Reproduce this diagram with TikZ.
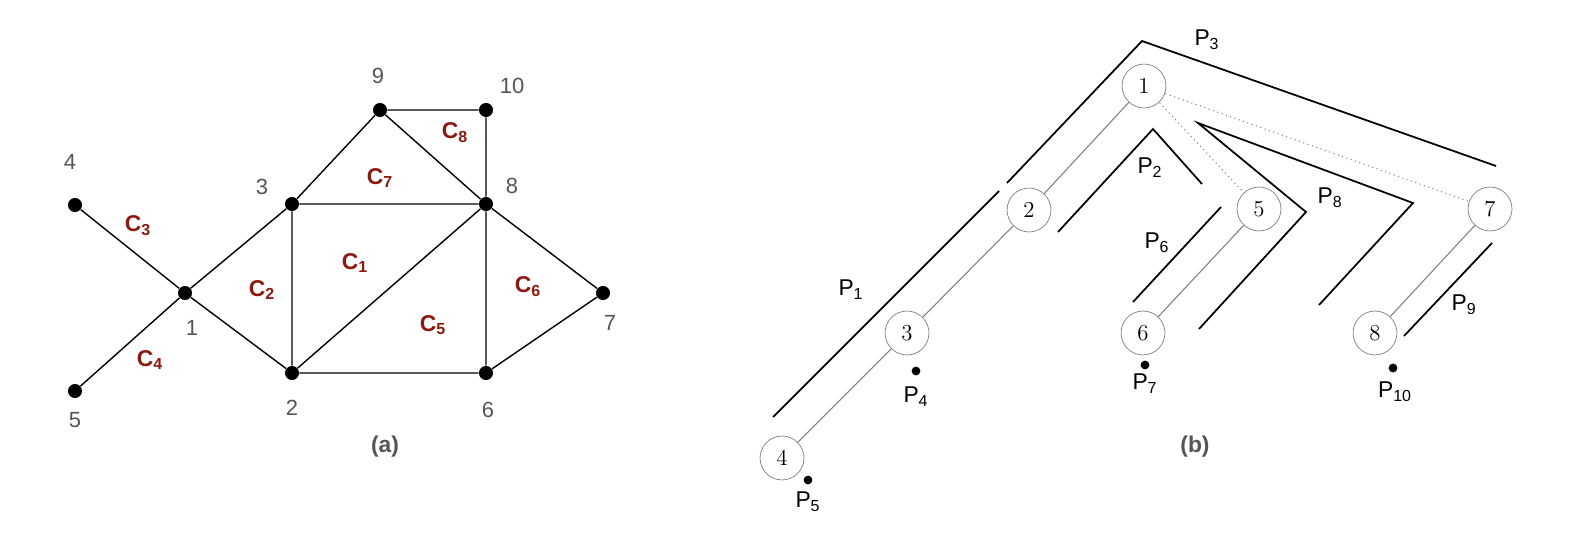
\documentclass[tikz,border=0pt]{standalone}
\usepackage{fontspec}
\newfontfamily\helv{Liberation Sans}
\usetikzlibrary{positioning}
\definecolor{cred}{RGB}{140,25,15}
\definecolor{lgrey}{RGB}{85,85,85}

\begin{document}
\begin{tikzpicture}[
    x = 0.02cm, y = -0.02cm,
    dotNode/.style = {circle, fill, inner sep = 0pt, minimum size = 8pt},
    numLabel/.style = {font = \helv\fontsize{12.5}{14}\selectfont, text = lgrey},
    cLabel/.style = {font = \helv\bfseries\fontsize{13}{15}\selectfont, text = cred},
    treeNode/.style = {draw = gray, circle, minimum size = 25pt, inner sep = 0pt, fill = white, font = \fontsize{13}{15}\selectfont},
    pLabel/.style = {font = \helv\fontsize{13}{15}\selectfont},
    pDot/.style = {circle, fill, inner sep = 0pt, minimum size = 5pt},
    pathLine/.style = {black, line width = 1pt},
    treeEdge/.style = {gray, line width = 0.6pt}
    ]
      \useasboundingbox (0,0) rectangle (1582,534);

      %% (a) graph
      \node[dotNode] (g1) at (185,293) {};
      \node[dotNode] (g2) at (292,373) {};
      \node[dotNode] (g3) at (292,204) {};
      \node[dotNode] (g4) at (75,205) {};
      \node[dotNode] (g5) at (75,391) {};
      \node[dotNode] (g6) at (486,373) {};
      \node[dotNode] (g7) at (603,293) {};
      \node[dotNode] (g8) at (486,204) {};
      \node[dotNode] (g9) at (380,110) {};
      \node[dotNode] (g10) at (486,110) {};

      \draw[thick] (g4) -- (g1) -- (g5);
      \draw[thick] (g1) -- (g3) -- (g2) -- (g1);
      \draw[thick] (g3) -- (g8) -- (g2) -- (g6) -- (g8);
      \draw[thick] (g8) -- (g7) -- (g6);
      \draw[thick] (g3) -- (g9) -- (g10) -- (g8) -- (g9);

      \node[numLabel] (n1) at (192,328) {1};
      \node[numLabel] (n2) at (292,408) {2};
      \node[numLabel] (n3) at (262,187) {3};
      \node[numLabel] (n4) at (70,162) {4};
      \node[numLabel] (n5) at (75,420) {5};
      \node[numLabel] (n6) at (488,410) {6};
      \node[numLabel] (n7) at (610,323) {7};
      \node[numLabel] (n8) at (512,186) {8};
      \node[numLabel] (n9) at (378,76) {9};
      \node[numLabel] (n10) at (512,86) {10};

      \node[cLabel] (c1) at (355,263) {C\textsubscript{1}};
      \node[cLabel] (c2) at (262,290) {C\textsubscript{2}};
      \node[cLabel] (c3) at (138,226) {C\textsubscript{3}};
      \node[cLabel] (c4) at (150,360) {C\textsubscript{4}};
      \node[cLabel] (c5) at (433,325) {C\textsubscript{5}};
      \node[cLabel] (c6) at (528,287) {C\textsubscript{6}};
      \node[cLabel] (c7) at (380,178) {C\textsubscript{7}};
      \node[cLabel] (c8) at (455,133) {C\textsubscript{8}};

      \node[font = \helv\bfseries\fontsize{13}{15}\selectfont, text = lgrey] (capA) at (385,447) {(a)};

      %% (b) tree
      \draw[treeEdge, dotted] (1144,86) -- (1259,209);
      \draw[treeEdge, dotted] (1144,86) -- (1490,209);
      \node[treeNode] (t1) at (1144,86) {1};
      \node[treeNode] (t2) at (1029,210) {2};
      \node[treeNode] (t3) at (907,333) {3};
      \node[treeNode] (t4) at (782,458) {4};
      \node[treeNode] (t5) at (1259,209) {5};
      \node[treeNode] (t6) at (1143,333) {6};
      \node[treeNode] (t7) at (1490,209) {7};
      \node[treeNode] (t8) at (1375,333) {8};
      \draw[treeEdge] (t1) -- (t2) -- (t3) -- (t4);
      \draw[treeEdge] (t5) -- (t6);
      \draw[treeEdge] (t7) -- (t8);

      %% paths
      \draw[pathLine] (999,191) -- (773,417);
      \draw[pathLine] (1007,183) -- (1142,41) -- (1496,166);
      \draw[pathLine] (1058,232) -- (1153,129) -- (1202,184);
      \draw[pathLine] (1199,329) -- (1306,212) -- (1198,123) -- (1413,203) -- (1319,305);
      \draw[pathLine] (1221,207) -- (1133,302);
      \draw[pathLine] (1492,243) -- (1404,336);

      \node[pDot] (d4) at (916,371) {};
      \node[pDot] (d5) at (808,480) {};
      \node[pDot] (d7) at (1145,365) {};
      \node[pDot] (d10) at (1393,368) {};

      \node[pLabel] (p1) at (851,290) {P\textsubscript{1}};
      \node[pLabel] (p2) at (1150,168) {P\textsubscript{2}};
      \node[pLabel] (p3) at (1207,40) {P\textsubscript{3}};
      \node[pLabel] (p4) at (916,397) {P\textsubscript{4}};
      \node[pLabel] (p5) at (808,502) {P\textsubscript{5}};
      \node[pLabel] (p6) at (1157,243) {P\textsubscript{6}};
      \node[pLabel] (p7) at (1145,384) {P\textsubscript{7}};
      \node[pLabel] (p8) at (1330,198) {P\textsubscript{8}};
      \node[pLabel] (p9) at (1464,305) {P\textsubscript{9}};
      \node[pLabel] (p10) at (1395,392) {P\textsubscript{10}};

      \node[font = \helv\bfseries\fontsize{13}{15}\selectfont, text = lgrey] (capB) at (1195,447) {(b)};
    \end{tikzpicture}
\end{document}
